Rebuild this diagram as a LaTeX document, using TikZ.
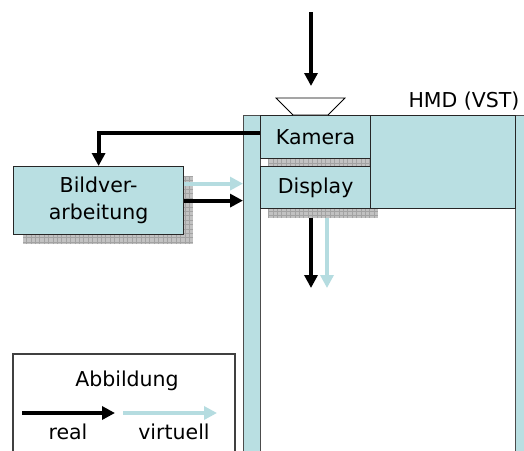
\documentclass[tikz,border=0pt]{standalone}
\usepackage{fontspec}
\setmainfont{DejaVu Sans}
\usetikzlibrary{arrows.meta}
\definecolor{hmdblue}{HTML}{B9DFE2}
\definecolor{virt}{HTML}{B5DCE0}
\tikzset{
  txt/.style={font=\fontsize{20.5}{27}\selectfont},
  box/.style={draw=black!85, line width=1.2pt, fill=hmdblue, inner sep=0pt,
    anchor=north west, align=center, txt},
  strip/.style={draw=black!70, line width=1.2pt, fill=hmdblue, inner sep=0pt, anchor=north west},
  tip/.style={-{Triangle[length=13pt,width=13pt]}},
  realarrow/.style={line width=4pt, black, tip},
  virtarrow/.style={line width=4pt, virt, tip},
  legendframe/.style={draw=black!75, line width=1.2pt},
}
% grey grid shadow behind a box
\newcommand\gridshadow[2]{%
  \fill[black!24] #1 rectangle #2;
  \draw[black!36, line width=0.4pt, step=4.4pt] #1 grid #2;}
\begin{document}
\begin{tikzpicture}[x=1pt, y=-1pt]
  \clip (0,0) rectangle (524,450);
  \fill[white] (0,0) rectangle (524,450);

  % head-mounted display frame
  \node[strip, minimum width=17pt, minimum height=340pt] (lstrip) at (243,115) {};
  \node[strip, minimum width=20pt, minimum height=340pt] (rstrip) at (515,115) {};

  % shadows
  \gridshadow{(268,124)}{(378,166)}
  \gridshadow{(268,175)}{(378,218)}
  \gridshadow{(23,176)}{(193,244)}

  \node[box, minimum width=110pt, minimum height=43pt] (cam) at (260,115) {Kamera};
  \node[box, minimum width=110pt, minimum height=42pt] (disp) at (260,166) {Display};
  \node[box, minimum width=145pt, minimum height=93pt] (hmdtop) at (370,115) {};

  % lens
  \draw[black, line width=0.8pt, fill=white] (276,98) -- (345,98) -- (328,115) -- (293,115) -- cycle;
  \node[txt, inner sep=0pt] (hmdlabel) at (464,101) {HMD (VST)};

  % image processing
  \node[box, minimum width=170pt, minimum height=68pt] (bild) at (13,166) {Bildver-\\arbeitung};

  % incoming light
  \coordinate (lightsrc) at (311,12);
  \coordinate (lightdst) at (311,86);
  \draw[realarrow] (lightsrc) -- (lightdst);

  % camera to processing
  \draw[realarrow] ([yshift=4.5pt]cam.west) -| (bild.north);

  % processing to display
  \draw[virtarrow] ([yshift=17pt]bild.east) -- ([yshift=17pt]bild.east -| lstrip.west);
  \draw[realarrow] (bild.east) -- (bild.east -| lstrip.west);

  % display output
  \coordinate (outr0) at (311,218);
  \coordinate (outr1) at (311,288);
  \coordinate (outv0) at (327,218);
  \coordinate (outv1) at (327,288);
  \draw[realarrow] (outr0) -- (outr1);
  \draw[virtarrow] (outv0) -- (outv1);

  % legend
  \coordinate (lgbl) at (13,455);
  \coordinate (lgtl) at (13,354);
  \coordinate (lgtr) at (235,354);
  \coordinate (lgbr) at (235,455);
  \draw[legendframe] (lgbl) -- (lgtl) -- (lgtr) -- (lgbr);
  \node[txt, inner sep=0pt] (lgtitle) at (127,381) {Abbildung};
  \coordinate (lr0) at (22,413);
  \coordinate (lr1) at (115,413);
  \coordinate (lv0) at (123,413);
  \coordinate (lv1) at (217,413);
  \draw[realarrow] (lr0) -- (lr1);
  \draw[virtarrow] (lv0) -- (lv1);
  \node[txt, inner sep=0pt, anchor=base] (lgreal) at (68,439) {real};
  \node[txt, inner sep=0pt, anchor=base] (lgvirt) at (174,439) {virtuell};
\end{tikzpicture}
\end{document}
